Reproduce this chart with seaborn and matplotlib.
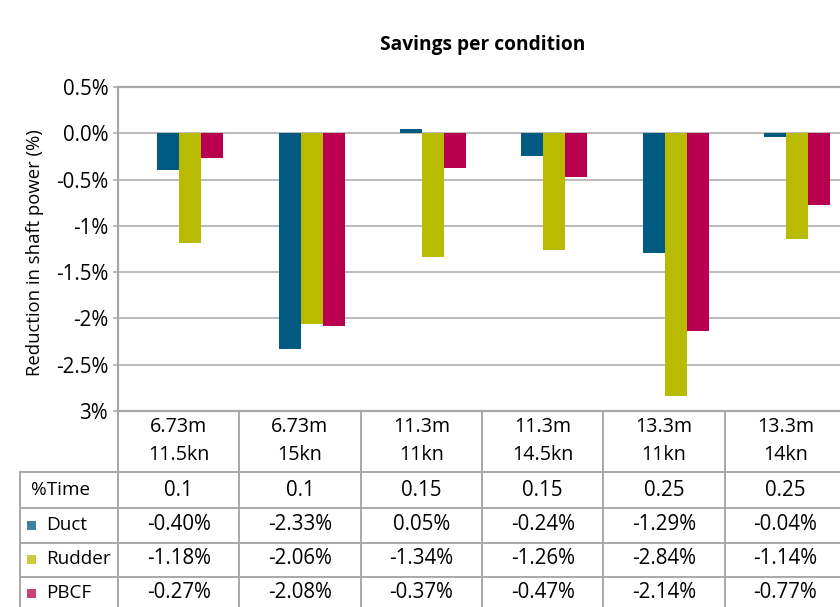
import numpy as np
import pandas as pd
import matplotlib
matplotlib.use("Agg")
import matplotlib.pyplot as plt
import seaborn as sns
from matplotlib.lines import Line2D
from matplotlib.patches import Rectangle

# Operating conditions (draught / speed) and share of sailing time
conditions = ["6.73m\n11.5kn", "6.73m\n15kn", "11.3m\n11kn",
              "11.3m\n14.5kn", "13.3m\n11kn", "13.3m\n14kn"]
time_share = ["0.1", "0.1", "0.15", "0.15", "0.25", "0.25"]

# Change in shaft power per energy-saving device (%)
devices = ["Duct", "Rudder", "PBCF"]
duct = [-0.40, -2.33, 0.05, -0.24, -1.29, -0.04]
rudder = [-1.18, -2.06, -1.34, -1.26, -2.84, -1.14]
pbcf = [-0.27, -2.08, -0.37, -0.47, -2.14, -0.77]

ytick_values = [0.5, 0.0, -0.5, -1.0, -1.5, -2.0, -2.5, -3.0]
ytick_labels = ["0.5%", "0.0%", "-0.5%", "-1%", "-1.5%", "-2%", "-2.5%", "3%"]

colors = ["#005a82", "#b9bb00", "#b8004f"]
grid_color = "#a8a8a8"

series = {"Duct": duct, "Rudder": rudder, "PBCF": pbcf}
df = pd.DataFrame(
    [(c, d, v) for d in devices for c, v in zip(conditions, series[d])],
    columns=["condition", "device", "value"],
)

sns.set_theme(style="white")
plt.rcParams["font.family"] = ["Open Sans", "DejaVu Sans"]

W, H = 840, 607
fig = plt.figure(figsize=(W / 100, H / 100), dpi=100)


def fx(px):
    return px / W


def fy(py):
    return 1 - py / H


# Plot area (the last column runs slightly past the right edge)
left, top, right, bottom = 118, 87, 846, 411
ax = fig.add_axes([fx(left), fy(bottom), fx(right - left), (bottom - top) / H])

sns.barplot(data=df, x="condition", y="value", hue="device", order=conditions,
            hue_order=devices, palette=colors, saturation=1, width=0.544,
            gap=0, legend=False, linewidth=0, errorbar=None, ax=ax)

ax.set_xlim(-0.595, 5.405)
ax.set_ylim(-3.0, 0.5)
ax.set_yticks(ytick_values, ytick_labels)
ax.set_xticks([])
ax.set_xlabel("")
ax.yaxis.grid(True, color=grid_color, linewidth=1.1)
ax.set_axisbelow(True)
ax.tick_params(axis="y", left=True, length=3.6, width=1.1, color=grid_color,
               pad=3.5, labelsize=14.8, labelcolor="black")
for side in ["left", "top", "bottom"]:
    ax.spines[side].set_color(grid_color)
    ax.spines[side].set_linewidth(1.6)
ax.spines["right"].set_visible(False)

ax.set_ylabel("Reduction in shaft power (%)", fontsize=13.3, color="black")
ax.yaxis.set_label_coords(-0.101, 0.49)

fig.text(fx(483), fy(45), "Savings per condition", ha="center", va="center",
         fontsize=13.8, fontweight="bold", color="black")

# Data table under the chart
ncol = len(conditions)
col_w = (right - left) / ncol
edges = [left + k * col_w for k in range(ncol + 1)]
centers = [left + (k + 0.5) * col_w for k in range(ncol)]
table_left = 20
row_lines = [472, 508, 543, 577]
row_centers = [490, 525, 559, 593]


def hline(y, x0, x1):
    fig.add_artist(Line2D([fx(x0), fx(x1)], [fy(y), fy(y)], color=grid_color,
                          linewidth=1.4, transform=fig.transFigure))


def vline(x, y0, y1):
    fig.add_artist(Line2D([fx(x), fx(x)], [fy(y0), fy(y1)], color=grid_color,
                          linewidth=1.4, transform=fig.transFigure))


for y in row_lines:
    hline(y, table_left, right)
vline(table_left, row_lines[0], H + 5)
for x in edges:
    vline(x, bottom, H + 5)

value_kw = dict(fontsize=14.8, color="black", va="center")
label_kw = dict(fontsize=13.6, color="black", va="center")
for xc, cond in zip(centers, conditions):
    fig.text(fx(xc), fy(441), cond, ha="center", linespacing=1.55,
             fontsize=14.2, color="black", va="center")

fig.text(fx(31), fy(row_centers[0]), "%Time", ha="left", **label_kw)
for xc, t in zip(centers, time_share):
    fig.text(fx(xc), fy(row_centers[0]), t, ha="center", **value_kw)

for yc, d, col in zip(row_centers[1:], devices, colors):
    fig.add_artist(Rectangle((fx(27), fy(yc + 4.5)), fx(9), 9 / H,
                             facecolor=col, edgecolor="none", alpha=0.75,
                             transform=fig.transFigure))
    fig.text(fx(46), fy(yc), d, ha="left", **label_kw)
    for xc, v in zip(centers, series[d]):
        fig.text(fx(xc), fy(yc), f"{v:.2f}%", ha="center", **value_kw)

fig.savefig("out.png", dpi=100, facecolor="white")
